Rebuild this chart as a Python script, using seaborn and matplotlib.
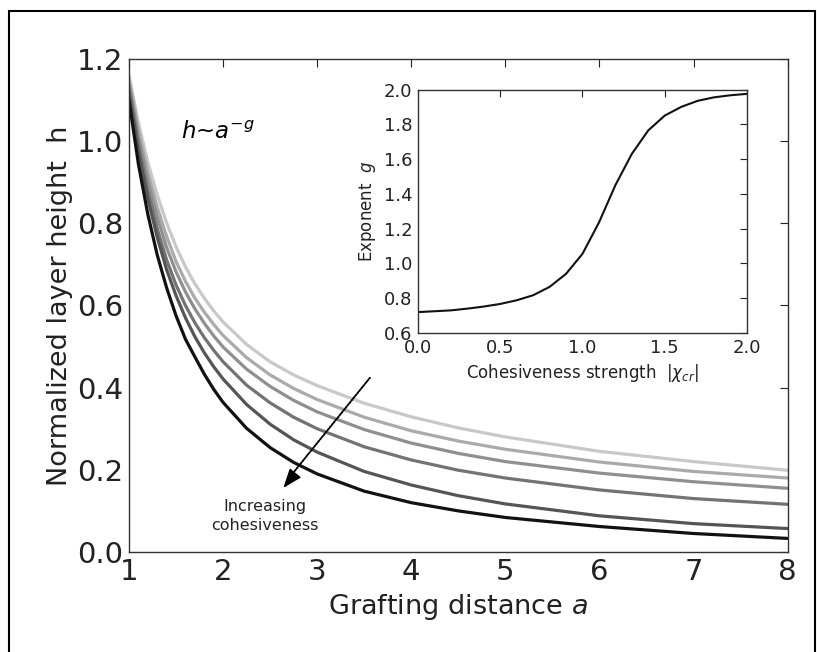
import numpy as np
import pandas as pd
import matplotlib
matplotlib.use("Agg")
import matplotlib.pyplot as plt
import seaborn as sns
from matplotlib.patches import Rectangle

# ---------------- data ----------------
a_values = [1.0, 1.1, 1.2, 1.3, 1.4, 1.5, 1.6, 1.7, 1.8, 1.9, 2.0, 2.25, 2.5,
            2.75, 3.0, 3.5, 4.0, 4.5, 5.0, 6.0, 7.0, 8.0]
h_curve1 = [1.16, 1.045, 0.949, 0.869, 0.801, 0.743, 0.694, 0.653, 0.618, 0.587, 0.560,
            0.505, 0.463, 0.431, 0.405, 0.362, 0.329, 0.302, 0.280, 0.245, 0.220, 0.199]
h_curve2 = [1.15, 1.026, 0.924, 0.839, 0.768, 0.707, 0.659, 0.618, 0.584, 0.554, 0.527,
            0.473, 0.431, 0.398, 0.371, 0.328, 0.295, 0.270, 0.250, 0.219, 0.196, 0.180]
h_curve3 = [1.14, 1.009, 0.903, 0.815, 0.741, 0.682, 0.633, 0.592, 0.557, 0.526, 0.499,
            0.445, 0.403, 0.369, 0.341, 0.298, 0.265, 0.240, 0.220, 0.192, 0.171, 0.155]
h_curve4 = [1.13, 0.991, 0.878, 0.787, 0.711, 0.650, 0.600, 0.558, 0.522, 0.491, 0.463,
            0.406, 0.363, 0.328, 0.300, 0.256, 0.224, 0.199, 0.180, 0.151, 0.130, 0.116]
h_curve5 = [1.12, 0.975, 0.860, 0.766, 0.687, 0.624, 0.570, 0.524, 0.485, 0.451, 0.421,
            0.359, 0.311, 0.273, 0.243, 0.196, 0.163, 0.137, 0.117, 0.088, 0.069, 0.057]
h_curve6 = [1.10, 0.944, 0.822, 0.723, 0.643, 0.575, 0.518, 0.475, 0.433, 0.396, 0.364,
            0.301, 0.254, 0.218, 0.190, 0.148, 0.120, 0.100, 0.084, 0.062, 0.045, 0.033]
curve_names = ["c1", "c2", "c3", "c4", "c5", "c6"]
curve_colors = ["#c8c8c8", "#aaaaaa", "#8f8f8f", "#737373", "#555555", "#111111"]

chi_values = [0.0, 0.1, 0.2, 0.3, 0.4, 0.5, 0.6, 0.7, 0.8, 0.9, 1.0,
              1.1, 1.2, 1.3, 1.4, 1.5, 1.6, 1.7, 1.8, 1.9, 2.0]
g_values = [0.72, 0.725, 0.73, 0.74, 0.752, 0.767, 0.788, 0.817, 0.865, 0.94, 1.055,
            1.235, 1.45, 1.63, 1.765, 1.85, 1.90, 1.935, 1.955, 1.967, 1.975]

x_ticks = [1, 2, 3, 4, 5, 6, 7, 8]
y_ticks = [0.0, 0.2, 0.4, 0.6, 0.8, 1.0, 1.2]
inset_x_ticks = [0.0, 0.5, 1.0, 1.5, 2.0]
inset_y_ticks = [0.6, 0.8, 1.0, 1.2, 1.4, 1.6, 1.8, 2.0]

# ---------------- build tables ----------------
curves = [h_curve1, h_curve2, h_curve3, h_curve4, h_curve5, h_curve6]
main_df = pd.concat(
    [pd.DataFrame({"a": a_values, "h": c, "curve": n}) for c, n in zip(curves, curve_names)],
    ignore_index=True)
inset_df = pd.DataFrame({"chi": chi_values, "g": g_values})

# ---------------- style ----------------
sns.set_style("white")
plt.rcParams["font.family"] = ["DejaVu Sans"]
plt.rcParams["mathtext.fontset"] = "dejavusans"

fig = plt.figure(figsize=(8.17, 6.52), dpi=100)
ax = fig.add_axes([0.1579, 0.1534, 0.8062, 0.7561])

sns.lineplot(data=main_df, x="a", y="h", hue="curve", palette=curve_colors,
             hue_order=curve_names, linewidth=2.3, legend=False, ax=ax)

ax.set_xlim(1, 8)
ax.set_ylim(0, 1.2)
ax.set_xticks(x_ticks)
ax.set_yticks(y_ticks)
ax.set_xticklabels([str(t) for t in x_ticks])
ax.set_yticklabels([f"{t:.1f}" for t in y_ticks])
ax.tick_params(direction="in", length=6, width=0.8, top=True, right=True,
               labelsize=21, pad=4, colors="#222222")
for s in ax.spines.values():
    s.set_linewidth(1.0)
    s.set_color("#333333")
ax.set_xlabel("Grafting distance $a$", fontsize=19.5, color="#222222", labelpad=5)
ax.set_ylabel("Normalized layer height  h", fontsize=19.5, color="#222222", labelpad=3)

ax.text(1.55, 1.005, r"$h$~$a^{-g}$", fontsize=16.5, style="italic", color="black")

# dotted guide line and its arrow head
ax.annotate("", xy=(2.70, 0.18), xytext=(3.56, 0.424),
            arrowprops=dict(arrowstyle="-", linestyle=(0, (0.8, 0.8)), lw=1.4,
                            color="black", shrinkA=0, shrinkB=0))
ax.annotate("", xy=(2.64, 0.156), xytext=(2.76, 0.19),
            arrowprops=dict(arrowstyle="-|>,head_length=1.2,head_width=0.45",
                            lw=1.0, color="black", shrinkA=0, shrinkB=0))
ax.text(2.44, 0.088, "Increasing\ncohesiveness", fontsize=11.5, ha="center", va="center",
        linespacing=1.35, color="#222222")

# ---------------- inset ----------------
ins = fig.add_axes([0.5116, 0.4893, 0.4027, 0.3734])
sns.lineplot(data=inset_df, x="chi", y="g", color="#111111", linewidth=1.5, ax=ins)
ins.set_xlim(0, 2)
ins.set_ylim(0.6, 2.0)
ins.set_xticks(inset_x_ticks)
ins.set_yticks(inset_y_ticks)
ins.set_xticklabels([f"{t:.1f}" for t in inset_x_ticks])
ins.set_yticklabels([f"{t:.1f}" for t in inset_y_ticks])
ins.tick_params(direction="in", length=5, width=0.8, top=True, right=True,
                labelsize=13, pad=4, colors="#222222")
for s in ins.spines.values():
    s.set_linewidth(1.0)
    s.set_color("#333333")
ins.set_xlabel(r"Cohesiveness strength  $|\chi_{cr}|$", fontsize=12, color="#222222")
ins.set_ylabel(r"Exponent  $g$", fontsize=12, color="#222222")

# frame around the figure
fig.add_artist(Rectangle((9 / 817, -0.05), (815 - 9) / 817, 1 - 11 / 652 + 0.05,
                         transform=fig.transFigure, fill=False, lw=1.5,
                         edgecolor="black", clip_on=False))

fig.savefig("out.png", dpi=100)
